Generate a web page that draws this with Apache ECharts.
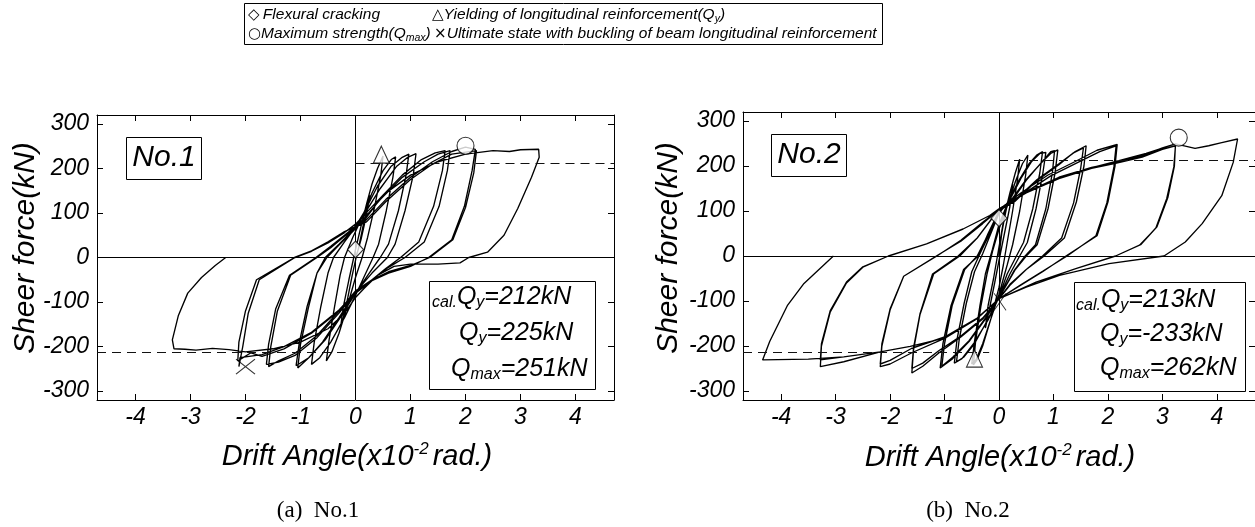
<!DOCTYPE html>
<html>
<head>
<meta charset="utf-8">
<script src="https://cdn.jsdelivr.net/npm/echarts@6/dist/echarts.min.js"></script>
<style>
  html, body { margin: 0; padding: 0; background: #fff; }
  #chart { width: 1255px; height: 527px; }
</style>
</head>
<body>
<div id="chart"></div>
<script>
// axis ticks / ranges
const xTicks = [-4, -3, -2, -1, 0, 1, 2, 3, 4];
const yTicks = [-300, -200, -100, 0, 100, 200, 300];
const xRange = [-4.7, 4.7];
const yRange = [-320, 320];

// hysteresis history, No.1  [drift angle (x10^-2 rad), shear force (kN)]
const loopNo1 = [
  [0,0],[0.05,18],[0.12,60],[0.2,110],[0.26,140],[0.2,95],[0.1,40],[0.02,5],[-0.06,-40],[-0.14,-90],[-0.22,-135],[-0.27,-155],[-0.22,-110],[-0.12,-50],[0,18],
  [0.1,70],[0.2,120],[0.3,165],[0.4,200],[0.5,228],[0.46,185],[0.35,115],[0.22,45],[0.12,0],[0,-45],[-0.15,-110],[-0.3,-170],[-0.43,-212],[-0.53,-232],[-0.48,-185],[-0.38,-110],[-0.28,-40],[-0.2,0],[-0.05,45],
  [0.1,85],[0.3,145],[0.5,195],[0.65,220],[0.73,226],[0.68,180],[0.56,105],[0.42,30],[0.32,0],[0.15,-45],[0,-85],[-0.2,-135],[-0.45,-190],[-0.65,-225],[-0.8,-240],[-0.75,-190],[-0.63,-110],[-0.5,-35],[-0.4,0],[-0.2,35],[-0.05,60],
  [0.15,100],[0.4,160],[0.65,205],[0.85,225],[0.97,232],[0.92,185],[0.78,105],[0.6,30],[0.45,0],[0.25,-35],[0,-80],[-0.25,-130],[-0.55,-185],[-0.85,-225],[-1.08,-243],[-1.02,-190],[-0.88,-110],[-0.7,-35],[-0.55,0],[-0.3,30],[-0.1,55],
  [0.15,95],[0.45,155],[0.75,205],[0.95,225],[1.1,233],[1.05,185],[0.9,105],[0.72,30],[0.58,0],[0.3,-35],[0,-78],[-0.3,-135],[-0.6,-190],[-0.85,-225],[-1.05,-248],[-1.0,-195],[-0.86,-115],[-0.7,-35],[-0.52,0],[-0.3,28],[-0.1,52],
  [0.2,90],[0.5,140],[0.85,185],[1.2,220],[1.45,235],[1.63,240],[1.58,195],[1.42,115],[1.15,35],[0.82,0],[0.55,-25],[0.25,-55],[0,-80],[-0.3,-125],[-0.7,-180],[-1.1,-220],[-1.4,-235],[-1.62,-240],[-1.58,-195],[-1.45,-115],[-1.2,-40],[-0.72,0],[-0.45,25],[-0.2,50],
  [0.1,80],[0.45,130],[0.85,180],[1.25,215],[1.5,232],[1.72,240],[1.67,195],[1.52,115],[1.25,35],[0.9,0],[0.6,-22],[0.3,-50],[0,-75],[-0.3,-120],[-0.7,-175],[-1.1,-215],[-1.4,-232],[-1.58,-245],[-1.54,-200],[-1.42,-120],[-1.18,-40],[-0.7,0],[-0.45,22],[-0.2,48],
  [0.2,85],[0.55,130],[1.0,180],[1.4,215],[1.75,238],[2.0,248],[2.18,243],[2.12,195],[1.98,115],[1.75,40],[1.33,0],[1.0,-20],[0.6,-35],[0.3,-52],[0,-80],[-0.3,-120],[-0.8,-170],[-1.3,-205],[-1.7,-222],[-1.9,-214],[-2.14,-232],[-2.12,-190],[-2.0,-120],[-1.8,-50],[-1.11,0],[-0.8,15],[-0.5,35],[-0.2,58],
  [0.2,80],[0.55,125],[1.0,175],[1.4,210],[1.75,232],[2.2,240],[2.15,190],[2.0,112],[1.77,40],[1.35,0],[1.0,-18],[0.6,-32],[0.3,-50],[0,-78],[-0.3,-118],[-0.8,-168],[-1.3,-200],[-1.7,-218],[-2.1,-225],[-2.12,-245],[-2.05,-200],[-1.95,-125],[-1.75,-50],[-1.1,0],[-0.8,14],[-0.5,33],[-0.2,56],[0,75],
  [0.5,140],[1.0,185],[1.5,215],[2.0,232],[2.5,240],[2.8,238],[3.0,242],[3.33,243],[3.34,225],[3.2,180],[2.95,110],[2.7,50],[2.4,12],[2.06,0],[1.9,-12],[1.5,-15],[1.0,-15],[0.7,-20],[0.4,-40],[0.15,-70],[0,-90],[-0.2,-125],[-0.5,-160],[-1.0,-190],[-1.5,-205],[-2.0,-212],[-2.3,-207],[-2.6,-204],[-2.9,-208],[-3.1,-206],[-3.3,-205],[-3.33,-185],[-3.22,-130],[-3.05,-80],[-2.8,-45],[-2.55,-18],[-2.36,0]
];

// hysteresis history, No.2
const loopNo2 = [
  [0,0],[0.05,50],[0.1,84],[0.18,130],[0.25,160],[0.2,110],[0.1,50],[0,-10],[-0.08,-60],[-0.18,-120],[-0.25,-160],[-0.2,-110],[-0.1,-50],[0,20],
  [0.1,90],[0.2,140],[0.3,185],[0.38,215],[0.34,170],[0.25,100],[0.15,30],[0.08,-20],[0,-70],[-0.15,-140],[-0.3,-200],[-0.4,-230],[-0.47,-242],[-0.43,-190],[-0.33,-110],[-0.22,-40],[-0.12,10],[0,60],
  [0.15,110],[0.3,165],[0.43,205],[0.53,224],[0.49,180],[0.38,100],[0.25,25],[0.15,-20],[0,-85],[-0.15,-140],[-0.3,-195],[-0.42,-230],[-0.5,-240],[-0.45,-190],[-0.35,-110],[-0.25,-40],[-0.12,15],[0,70],
  [0.15,115],[0.35,165],[0.55,205],[0.7,225],[0.8,232],[0.75,185],[0.62,105],[0.45,30],[0.32,0],[0.15,-40],[0,-90],[-0.2,-140],[-0.45,-195],[-0.65,-225],[-0.78,-235],[-0.73,-185],[-0.6,-105],[-0.45,-35],[-0.3,5],[-0.15,50],[0,95],
  [0.2,125],[0.4,172],[0.6,210],[0.75,228],[0.86,230],[0.8,180],[0.68,105],[0.52,30],[0.38,0],[0.2,-40],[0,-92],[-0.2,-142],[-0.45,-192],[-0.68,-228],[-0.82,-238],[-0.77,-185],[-0.64,-105],[-0.5,-35],[-0.35,5],[-0.15,55],[0,97],
  [0.2,120],[0.5,170],[0.8,210],[0.95,228],[1.08,236],[1.03,185],[0.9,105],[0.7,25],[0.5,0],[0.3,-30],[0,-93],[-0.25,-140],[-0.55,-190],[-0.85,-228],[-1.08,-249],[-1.03,-195],[-0.88,-110],[-0.65,-30],[-0.38,0],[-0.2,50],[0,100],
  [0.25,125],[0.5,168],[0.78,208],[0.95,232],[1.02,234],[0.98,185],[0.86,105],[0.67,25],[0.48,0],[0.28,-32],[0,-94],[-0.25,-138],[-0.55,-188],[-0.85,-225],[-1.05,-245],[-1.0,-195],[-0.86,-110],[-0.63,-30],[-0.4,0],[-0.2,48],[0,100],
  [0.3,125],[0.7,170],[1.1,205],[1.4,232],[1.6,245],[1.56,200],[1.42,120],[1.2,40],[0.83,0],[0.5,-30],[0.2,-65],[0,-95],[-0.3,-140],[-0.7,-180],[-1.1,-215],[-1.4,-245],[-1.6,-260],[-1.57,-210],[-1.45,-130],[-1.2,-40],[-0.72,0],[-0.4,40],[-0.15,80],[0,103],
  [0.3,122],[0.7,168],[1.1,203],[1.35,228],[1.55,240],[1.5,195],[1.37,118],[1.15,40],[0.8,0],[0.5,-30],[0.2,-63],[0,-95],[-0.3,-138],[-0.7,-178],[-1.1,-210],[-1.4,-238],[-1.6,-250],[-1.57,-205],[-1.45,-128],[-1.22,-40],[-0.75,0],[-0.4,40],[-0.15,80],[0,103],
  [0.4,140],[0.9,180],[1.4,210],[1.8,235],[2.17,248],[2.13,200],[2.0,120],[1.8,45],[1.23,0],[0.8,-35],[0.4,-65],[0,-95],[-0.4,-139],[-1.0,-183],[-1.6,-215],[-2.0,-240],[-2.18,-246],[-2.15,-200],[-2.0,-120],[-1.75,-45],[-1.14,0],[-0.7,35],[-0.3,75],[0,103],
  [0.45,138],[0.95,178],[1.45,208],[1.85,232],[2.15,245],[2.11,198],[1.98,118],[1.78,45],[1.25,0],[0.8,-34],[0.4,-64],[0,-95],[-0.4,-138],[-1.0,-180],[-1.6,-205],[-2.0,-232],[-2.18,-240],[-2.15,-195],[-2.0,-118],[-1.75,-45],[-1.15,0],[-0.7,33],[-0.3,72],[0,103],
  [0.5,142],[1.1,175],[1.7,197],[2.14,208],[2.63,223],[3.0,240],[3.24,249],[3.22,200],[3.1,130],[2.9,65],[2.6,25],[2.14,0],[1.41,-28],[0.68,-58],[0,-95],[-0.41,-139],[-1.02,-183],[-1.63,-201],[-2.18,-213],[-2.85,-235],[-3.28,-246],[-3.26,-200],[-3.1,-125],[-2.8,-60],[-2.5,-25],[-2.03,0],[-1.33,27],[-0.66,60],[-0.17,90],[0,105],
  [0.5,140],[1.1,172],[1.7,195],[2.14,206],[2.63,220],[3.0,237],[3.24,245],[3.21,198],[3.08,128],[2.88,62],[2.58,24],[2.14,0],[1.41,-28],[0.68,-58],[0,-95],[-0.41,-139],[-1.02,-183],[-1.63,-201],[-2.18,-213],[-2.85,-224],[-3.28,-231],[-3.26,-195],[-3.1,-122],[-2.8,-58],[-2.5,-24],[-2.03,0],[-1.33,27],[-0.66,60],[-0.17,90],[0,105],
  [0.5,142],[1.11,175],[1.72,197],[2.2,212],[2.7,228],[3.24,249],[3.6,239],[3.85,245],[4.09,252],[4.38,260],[4.3,208],[4.09,134],[3.73,72],[3.42,31],[3.03,0],[2.02,-17],[1.11,-43],[0.5,-69],[0,-95],[-0.41,-139],[-1.02,-183],[-1.63,-201],[-2.18,-213],[-2.85,-224],[-3.5,-229],[-4.34,-231],[-4.21,-190],[-3.88,-109],[-3.58,-61],[-3.04,0]
];

// event points: cracking, yielding, maximum, ultimate
const crackNo1 = [[0, 18]];
const yieldNo1 = [[0.47, 231]];
const maxNo1 = [[2.0, 251]];
const ultNo1 = [[-2.0, -245]];
const crackNo2 = [[0, 84]];
const yieldNo2 = [[-0.45, -228]];
const maxNo2 = [[3.3, 263]];
const ultNo2 = [[0.02, -102]];

const calQy = [212, 213];
const dashStop = -0.18;

const FONT = '"Liberation Sans", Arial, sans-serif';
const chart = echarts.init(document.getElementById('chart'));

const grids = [
  { left: 97, top: 115, width: 517, height: 285 },
  { left: 743, top: 112, width: 515, height: 288 }
];

const lineBlack = { color: '#000', width: 1 };

function xAxisFor(gi, pos) {
  return {
    type: 'value', gridIndex: gi, position: pos, min: xRange[0], max: xRange[1],
    axisLine: { show: true, onZero: false, lineStyle: lineBlack },
    splitLine: { show: false },
    axisTick: { show: true, inside: true, length: 6, customValues: xTicks, lineStyle: lineBlack },
    axisLabel: {
      show: pos === 'bottom', customValues: xTicks, margin: 6,
      color: '#000', fontSize: 23, fontStyle: 'italic', fontFamily: FONT
    }
  };
}
function yAxisFor(gi, pos) {
  return {
    type: 'value', gridIndex: gi, position: pos, min: yRange[0], max: yRange[1],
    axisLine: { show: true, onZero: false, lineStyle: lineBlack },
    splitLine: { show: false },
    axisTick: { show: true, inside: true, length: 6, customValues: yTicks, lineStyle: lineBlack },
    axisLabel: {
      show: pos === 'left', customValues: yTicks, margin: 8,
      color: '#000', fontSize: 23, fontStyle: 'italic', fontFamily: FONT
    }
  };
}

const openStyle = { color: '#fff', borderColor: '#000', borderWidth: 1.1 };
const crossPath = 'path://M0,0L10,8M10,0L0,8';

function panelSeries(gi, loop, qy, marks) {
  const ax = { xAxisIndex: gi * 2, yAxisIndex: gi * 2 };
  return [
    {
      type: 'line', ...ax, data: loop, showSymbol: false, symbol: 'none',
      lineStyle: { color: '#000', width: 1.35 }, silent: true, clip: true,
      markLine: {
        silent: true, symbol: ['none', 'none'], label: { show: false },
        lineStyle: { color: '#000', width: 1, type: 'solid' },
        data: [
          { xAxis: 0 },
          { yAxis: 0 },
          [{ coord: [0, qy], lineStyle: { type: [9, 6], color: '#111' } }, { coord: [xRange[1], qy] }],
          [{ coord: [xRange[0], -qy], lineStyle: { type: [9, 6], color: '#111' } }, { coord: [dashStop, -qy] }]
        ]
      }
    },
    { type: 'scatter', ...ax, data: marks.crack, symbol: 'diamond', symbolSize: [16, 17], itemStyle: openStyle, z: 5 },
    { type: 'scatter', ...ax, data: marks.yld, symbol: 'triangle', symbolSize: [16, 17], itemStyle: openStyle, z: 5 },
    { type: 'scatter', ...ax, data: marks.max, symbol: 'circle', symbolSize: 17, itemStyle: openStyle, z: 5 },
    { type: 'scatter', ...ax, data: marks.ult, symbol: crossPath, symbolSize: marks.ultSize,
      itemStyle: { color: 'transparent', borderColor: '#000', borderWidth: 1 }, z: 5 }
  ];
}

// rich text pieces
const mainTok = (fs) => ({ fontSize: fs, fontStyle: 'italic', fontFamily: FONT, fill: '#000', lineHeight: fs + 3 });
const subTok = (fs, drop) => ({ fontSize: fs, fontStyle: 'italic', fontFamily: FONT, fill: '#000', lineHeight: fs, padding: [drop, 0, 0, 0], verticalAlign: 'bottom' });
const supTok = (fs, rise) => ({ fontSize: fs, fontStyle: 'italic', fontFamily: FONT, fill: '#000', lineHeight: fs, padding: [0, 4, rise, 0], verticalAlign: 'top' });

const infoRich = { m: mainTok(25), b: subTok(16, 17) };
const legRich = { m: mainTok(15.5), b: subTok(10.5, 9), g: { fontSize: 15, fontFamily: '"DejaVu Sans", sans-serif', fill: '#000', lineHeight: 18 } };
const xtRich = { m: mainTok(29), p: supTok(17, 16) };

function txt(x, y, text, rich, align, extra) {
  return Object.assign({
    type: 'text', x: x, y: y, z: 10,
    style: { text: text, rich: rich, align: align || 'left', verticalAlign: 'middle', textAlign: align || 'left', textVerticalAlign: 'middle', fill: '#000' }
  }, extra || {});
}
function box(x, y, w, h) {
  return { type: 'rect', z: 9, shape: { x: x + 0.5, y: y + 0.5, width: w, height: h }, style: { fill: '#fff', stroke: '#000', lineWidth: 1 } };
}
function plain(x, y, text, font, extra) {
  return Object.assign({
    type: 'text', x: x, y: y, z: 10,
    style: { text: text, font: font, fill: '#000', align: 'center', verticalAlign: 'middle', textAlign: 'center', textVerticalAlign: 'middle' }
  }, extra || {});
}

const graphics = [
  // legend box
  box(244, 3, 638, 41),
  txt(248, 15, '{g|◇} {m|Flexural cracking}', legRich),
  txt(432, 15, '{g|△}{m|Yielding of longitudinal reinforcement(Q}{b|y}{m|)}', legRich),
  txt(248, 34, '{g|○}{m|Maximum strength(Q}{b|max}{m|)} {g|×}{m|Ultimate state with buckling of beam longitudinal reinforcement}', legRich),
  // specimen tags
  box(126, 137, 75, 42),
  plain(164, 158, 'No.1', 'italic 30px ' + FONT),
  box(771, 134, 75, 42),
  plain(809, 155, 'No.2', 'italic 30px ' + FONT),
  // result boxes
  box(429, 281, 166, 108),
  txt(432, 297, '{b|cal.}{m|Q}{b|y}{m|=212kN}', infoRich),
  txt(459, 333, '{m|Q}{b|y}{m|=225kN}', infoRich),
  txt(451, 369, '{m|Q}{b|max}{m|=251kN}', infoRich),
  box(1074, 282, 171, 109),
  txt(1076, 300, '{b|cal.}{m|Q}{b|y}{m|=213kN}', infoRich),
  txt(1100, 334, '{m|Q}{b|y}{m|=-233kN}', infoRich),
  txt(1100, 368, '{m|Q}{b|max}{m|=262kN}', infoRich),
  // axis titles
  plain(26, 248, 'Sheer force(kN)', 'italic 30px ' + FONT, { rotation: Math.PI / 2 }),
  plain(669, 248, 'Sheer force(kN)', 'italic 30px ' + FONT, { rotation: Math.PI / 2 }),
  txt(357, 457, '{m|Drift Angle(x10}{p|-2}{m|rad.)}', xtRich, 'center'),
  txt(1000, 458, '{m|Drift Angle(x10}{p|-2}{m|rad.)}', xtRich, 'center'),
  // captions
  plain(318, 511, '(a)  No.1', '23px "Liberation Serif", "Times New Roman", serif'),
  plain(968, 511, '(b)  No.2', '23px "Liberation Serif", "Times New Roman", serif')
];

chart.setOption({
  animation: false,
  backgroundColor: '#fff',
  grid: grids,
  xAxis: [xAxisFor(0, 'bottom'), xAxisFor(0, 'top'), xAxisFor(1, 'bottom'), xAxisFor(1, 'top')],
  yAxis: [yAxisFor(0, 'left'), yAxisFor(0, 'right'), yAxisFor(1, 'left'), yAxisFor(1, 'right')],
  series: [
    ...panelSeries(0, loopNo1, calQy[0], { crack: crackNo1, yld: yieldNo1, max: maxNo1, ult: ultNo1, ultSize: [19, 15] }),
    ...panelSeries(1, loopNo2, calQy[1], { crack: crackNo2, yld: yieldNo2, max: maxNo2, ult: ultNo2, ultSize: [12, 17] })
  ],
  graphic: graphics
});
</script>
</body>
</html>
